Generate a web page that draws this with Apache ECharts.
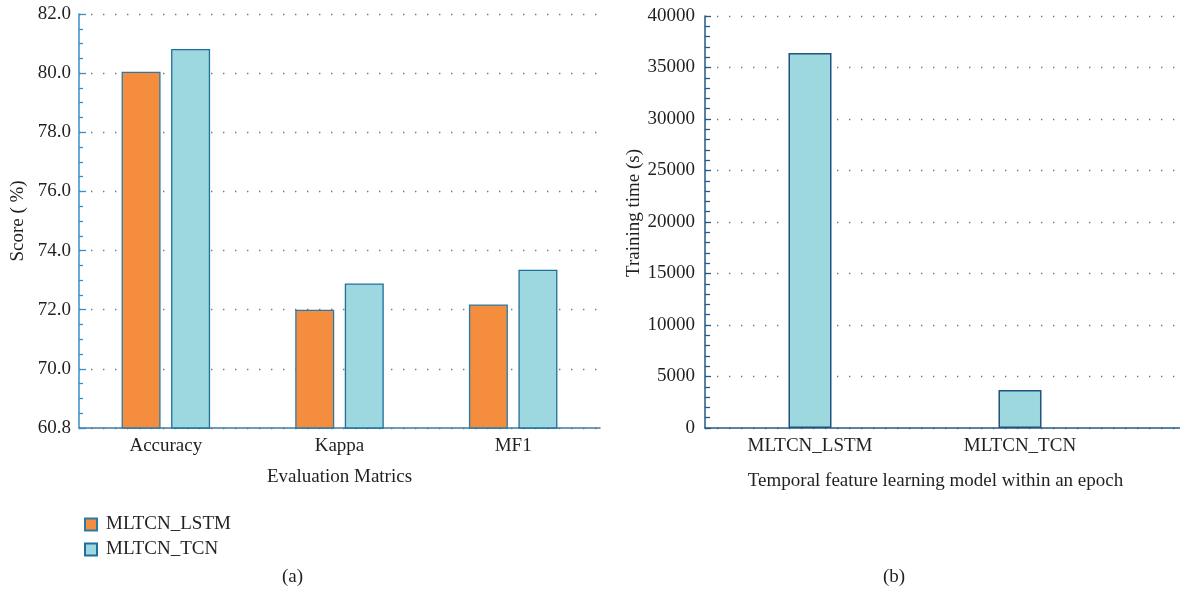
<!DOCTYPE html>
<html>
<head>
<meta charset="utf-8">
<script src="https://cdn.jsdelivr.net/npm/echarts@6.0.0/dist/echarts.min.js"></script>
<style>
  html, body { margin: 0; padding: 0; background: #fff; }
  #chart { width: 1180px; height: 599px; }
</style>
</head>
<body>
<div id="chart"></div>
<script>
// (a) scores
const metrics = ['Accuracy', 'Kappa', 'MF1']
const lstmScores = [80.05, 72.0, 72.18]
const tcnScores = [80.82, 72.89, 73.35]
const scoreBaseLabel = '60.8' // printed at the bottom of the broken score axis

// (b) training time
const trainModels = ['MLTCN_LSTM', 'MLTCN_TCN']
const trainSeconds = [36400, 3700]

const textColor = '#231f20'
const font = '"Liberation Serif", "DejaVu Serif", serif'
const fs = 19

const chart = echarts.init(document.getElementById('chart'))

const dotted = {
  show: true,
  lineStyle: { color: '#777', width: 1.4, type: [1.4, 10.6] }
}

const option = {
  backgroundColor: '#fff',
  textStyle: { fontFamily: font, color: textColor },
  animation: false,
  legend: {
    data: ['MLTCN_LSTM', 'MLTCN_TCN'],
    orient: 'vertical',
    left: 79,
    top: 510,
    icon: 'rect',
    itemWidth: 12,
    itemHeight: 12,
    itemGap: 6,
    textStyle: { fontFamily: font, fontSize: fs, color: textColor, padding: [0, 0, 0, 4] }
  },
  grid: [
    { left: 79, top: 14, width: 521, height: 414 },
    { left: 705, top: 16, right: 0, height: 412 }
  ],
  xAxis: [
    {
      type: 'category',
      gridIndex: 0,
      data: metrics,
      name: 'Evaluation Matrics',
      nameLocation: 'middle',
      nameGap: 40,
      nameTextStyle: { fontFamily: font, fontSize: fs, color: textColor },
      axisLine: { lineStyle: { color: '#3f7aa6', width: 1.5 } },
      axisTick: { show: false },
      axisLabel: { fontFamily: font, fontSize: fs, color: textColor, margin: 9 }
    },
    {
      type: 'value',
      gridIndex: 1,
      min: 0,
      max: 2.262,
      name: 'Temporal feature learning model within an epoch',
      nameLocation: 'middle',
      nameGap: 44,
      nameTextStyle: { fontFamily: font, fontSize: fs, color: textColor, padding: [0, 14, 0, 0] },
      splitLine: { show: false },
      axisLine: { lineStyle: { color: '#2a5a86', width: 1.5 } },
      axisTick: { show: false },
      axisLabel: {
        fontFamily: font, fontSize: fs, color: textColor, margin: 9,
        customValues: trainModels.map((m, i) => i + 0.5),
        formatter: v => trainModels[Math.round(v - 0.5)] || ''
      }
    }
  ],
  yAxis: [
    {
      type: 'value',
      gridIndex: 0,
      min: 68,
      max: 82,
      interval: 2,
      name: 'Score ( %)',
      nameLocation: 'middle',
      nameGap: 51,
      nameTextStyle: { fontFamily: font, fontSize: fs, color: textColor },
      axisLine: { show: true, lineStyle: { color: '#3a8cc6', width: 1.5 } },
      axisTick: { show: true, inside: true, length: 7, lineStyle: { color: '#3a8cc6', width: 1.3 } },
      minorTick: { show: true, splitNumber: 4, length: 4, lineStyle: { color: '#3a8cc6', width: 1.3 } },
      splitLine: dotted,
      axisLabel: {
        fontFamily: font, fontSize: fs, color: textColor, margin: 8,
        formatter: v => (v === 68 ? scoreBaseLabel : v.toFixed(1))
      }
    },
    {
      type: 'value',
      gridIndex: 1,
      min: 0,
      max: 40000,
      interval: 5000,
      name: 'Training time (s)',
      nameLocation: 'middle',
      nameGap: 60,
      nameTextStyle: { fontFamily: font, fontSize: fs, color: textColor, padding: [0, 0, 0, 18] },
      axisLine: { show: true, lineStyle: { color: '#245784', width: 1.5 } },
      axisTick: { show: true, inside: true, length: 6, lineStyle: { color: '#245784', width: 1.3 } },
      minorTick: { show: true, splitNumber: 5, length: 5, lineStyle: { color: '#245784', width: 1.3 } },
      splitLine: dotted,
      axisLabel: { fontFamily: font, fontSize: fs, color: textColor, margin: 10, formatter: v => String(v) }
    }
  ],
  series: [
    {
      name: 'MLTCN_LSTM',
      type: 'bar',
      xAxisIndex: 0,
      yAxisIndex: 0,
      data: lstmScores,
      barWidth: 39,
      barGap: '27%',
      itemStyle: { color: '#f58d3f', borderColor: '#2a7aa8', borderWidth: 1.3 }
    },
    {
      name: 'MLTCN_TCN',
      type: 'bar',
      xAxisIndex: 0,
      yAxisIndex: 0,
      data: tcnScores,
      barWidth: 39,
      barGap: '27%',
      itemStyle: { color: '#9dd8e0', borderColor: '#1f6f9c', borderWidth: 1.3 }
    },
    {
      name: 'Training time',
      type: 'bar',
      xAxisIndex: 1,
      yAxisIndex: 1,
      data: trainSeconds.map((v, i) => [i + 0.5, v]),
      barWidth: 43,
      itemStyle: { color: '#9ed8df', borderColor: '#22527f', borderWidth: 1.5 }
    }
  ],
  graphic: [
    { type: 'text', left: 282, top: 568, style: { text: '(a)', font: fs + 'px ' + font, fill: textColor } },
    { type: 'text', left: 883, top: 568, style: { text: '(b)', font: fs + 'px ' + font, fill: textColor } }
  ]
}

chart.setOption(option)
</script>
</body>
</html>
